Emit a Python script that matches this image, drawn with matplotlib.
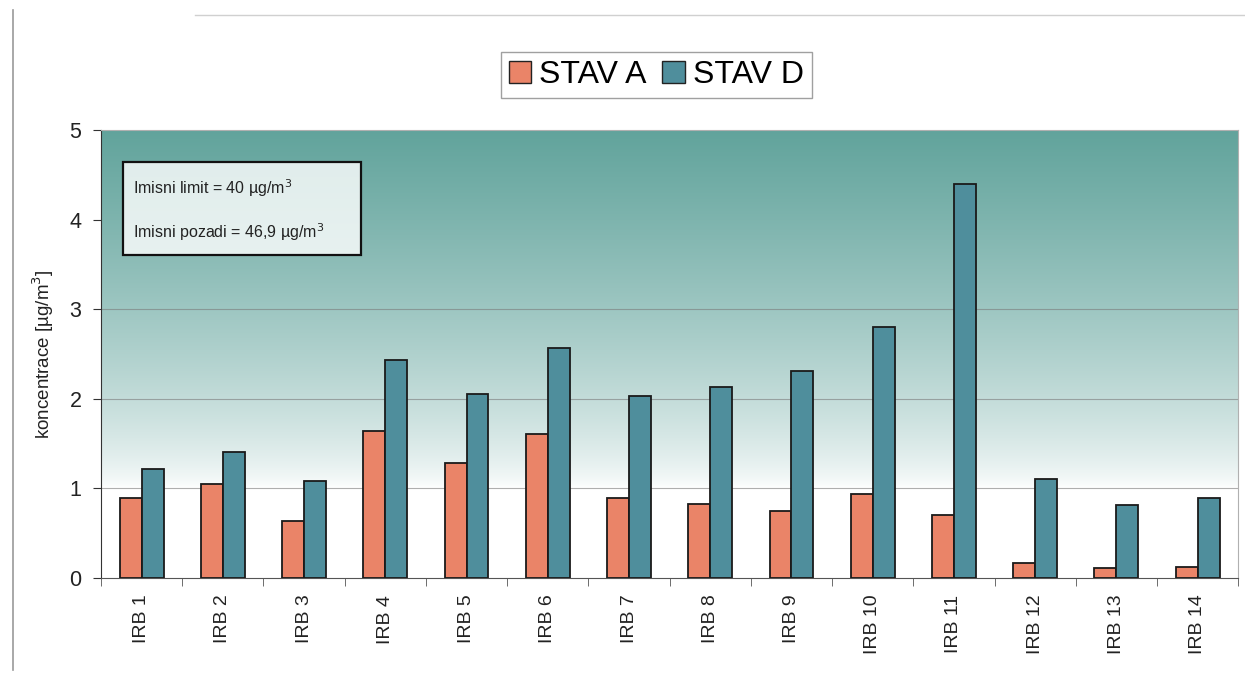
import numpy as np
import matplotlib
matplotlib.use("Agg")
import matplotlib.pyplot as plt
from matplotlib.lines import Line2D
from matplotlib.patches import Patch, Rectangle

plt.rcParams["font.family"] = ["Liberation Sans", "DejaVu Sans"]

categories = ["IRB 1", "IRB 2", "IRB 3", "IRB 4", "IRB 5", "IRB 6", "IRB 7",
              "IRB 8", "IRB 9", "IRB 10", "IRB 11", "IRB 12", "IRB 13", "IRB 14"]
stav_a = [0.89, 1.05, 0.64, 1.64, 1.28, 1.61, 0.89, 0.83, 0.75, 0.94, 0.70, 0.17, 0.11, 0.12]
stav_d = [1.22, 1.41, 1.08, 2.43, 2.05, 2.57, 2.03, 2.13, 2.31, 2.80, 4.40, 1.10, 0.81, 0.89]
y_ticks = [0, 1, 2, 3, 4, 5]

color_a = "#ea8468"
color_d = "#4f8e9c"

fig = plt.figure(figsize=(12.45, 6.77), dpi=100)
fig.patch.set_facecolor("white")
ax = fig.add_axes([0.0811, 0.1462, 0.9135, 0.6618])

n = len(categories)
x = np.arange(n)
ax.set_xlim(-0.5, n - 0.5)
ax.set_ylim(0, 5)

# vertical teal-to-white background gradient
yy = np.linspace(0, 5, 400)
t = np.clip((yy - 1.0) / 4.0, 0, 1) ** 0.7
top = np.array([0.38, 0.64, 0.61])
rgb = (1 - t)[:, None] * np.array([1.0, 1.0, 1.0]) + t[:, None] * top
img = np.repeat(rgb[:, None, :], 2, axis=1)
ax.imshow(img, extent=(-0.5, n - 0.5, 0, 5), origin="lower", aspect="auto", zorder=0)

for g in [1, 2, 3]:
    ax.axhline(g, color="#7a7a7a", lw=0.8, alpha=0.6, zorder=1)

w = 0.27
ax.bar(x - w / 2, stav_a, width=w, color=color_a, edgecolor="#1a1a1a", lw=1.3, zorder=3)
ax.bar(x + w / 2, stav_d, width=w, color=color_d, edgecolor="#1a1a1a", lw=1.3, zorder=3)

ax.set_yticks(y_ticks)
ax.set_yticklabels([str(v) for v in y_ticks], fontsize=15.5, color="#222222")
ax.set_xticks(x)
ax.set_xticklabels(categories, rotation=90, fontsize=14, color="#222222")
ax.tick_params(axis="x", length=0, pad=12)
ax.set_xticks(np.arange(-0.5, n, 1.0), minor=True)
ax.tick_params(axis="x", which="minor", length=6, color="#555555")
ax.tick_params(axis="y", length=6, color="#333333", pad=8)
ax.set_ylabel("koncentrace [µg/m$^3$]", fontsize=13.5, color="#222222", labelpad=10)

for side in ["top", "right"]:
    ax.spines[side].set_color("#b0b0b0")
    ax.spines[side].set_linewidth(0.8)
ax.spines["left"].set_color("#333333")
ax.spines["bottom"].set_color("#555555")

# info box with limits
ax.add_patch(Rectangle((0.0193, 0.721), 0.209, 0.208, transform=ax.transAxes,
                       facecolor="white", alpha=0.8, edgecolor="none", zorder=4))
ax.add_patch(Rectangle((0.0193, 0.721), 0.209, 0.208, transform=ax.transAxes,
                       facecolor="none", edgecolor="#111111", lw=1.6, zorder=5))
ax.text(0.028, 0.871, "Imisni limit = 40 µg/m$^3$", transform=ax.transAxes,
        fontsize=11.5, color="#222222", va="center", ha="left", zorder=6)
ax.text(0.028, 0.772, "Imisni pozadi = 46,9 µg/m$^3$", transform=ax.transAxes,
        fontsize=11.5, color="#222222", va="center", ha="left", zorder=6)

handles = [Patch(facecolor=color_a, edgecolor="#222222", label="STAV A"),
           Patch(facecolor=color_d, edgecolor="#222222", label="STAV D")]
leg = fig.legend(handles=handles, loc="center", bbox_to_anchor=(0.527, 0.889), ncol=2,
                 fontsize=23, frameon=True, fancybox=False, handlelength=0.7,
                 handleheight=0.7, handletextpad=0.25, columnspacing=0.5,
                 borderpad=0.25, edgecolor="#888888")
leg.get_frame().set_linewidth(1.0)

# page frame lines
fig.add_artist(Line2D([0.0105, 0.0105], [0.01, 0.985], color="#999999", lw=1.2))
fig.add_artist(Line2D([0.157, 1.0], [0.978, 0.978], color="#d0d0d0", lw=1.0))

fig.savefig("out.png", dpi=100, facecolor="white")
